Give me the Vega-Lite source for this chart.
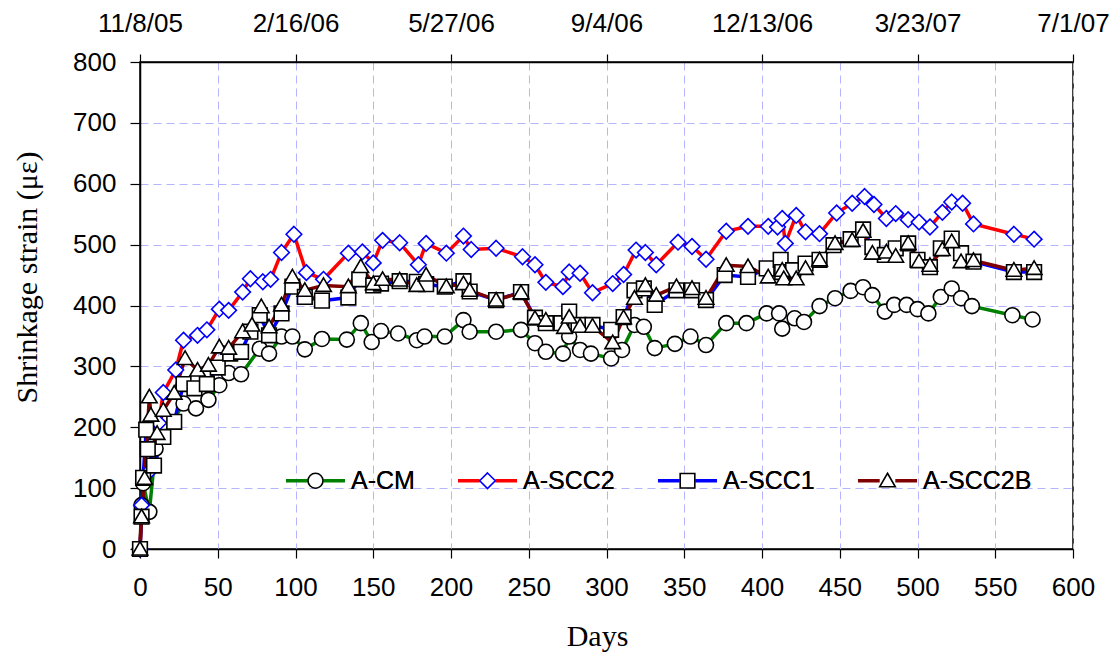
{
  "$schema": "https://vega.github.io/schema/vega-lite/v6.json",
  "autosize": {"type": "none"},
  "width": 933,
  "height": 487,
  "padding": {"left": 140, "top": 62, "right": 47, "bottom": 108},
  "background": "white",
  "config": {
    "view": {"stroke": "black", "strokeWidth": 1.5},
    "axis": {
      "labelFont": "Liberation Sans", "labelFontSize": 26, "labelColor": "black",
      "titleFont": "Liberation Serif", "titleFontSize": 30, "titleFontWeight": "normal", "titleColor": "black",
      "domainColor": "black", "domainWidth": 1.5, "tickColor": "black", "tickWidth": 1.2,
      "gridColor": "#b4b4ff", "gridDash": [8, 5], "gridWidth": 1
    },
    "legend": {
      "labelFont": "Liberation Sans", "labelFontSize": 25, "labelColor": "black",
      "orient": "none", "legendX": 146, "legendY": 406, "direction": "horizontal",
      "padding": 0, "columnPadding": 35, "symbolOffset": 17, "labelOffset": 23,
      "symbolSize": 144, "title": null
    }
  },
  "data": {"values": [
    {"series":"A-CM","day":0,"strain":0},{"series":"A-CM","day":1,"strain":72},{"series":"A-CM","day":2,"strain":108},{"series":"A-CM","day":6,"strain":61},{"series":"A-CM","day":10,"strain":165},{"series":"A-CM","day":28,"strain":239},{"series":"A-CM","day":36,"strain":231},{"series":"A-CM","day":44,"strain":245},{"series":"A-CM","day":51,"strain":269},{"series":"A-CM","day":57,"strain":289},{"series":"A-CM","day":65,"strain":287},{"series":"A-CM","day":77,"strain":329},{"series":"A-CM","day":83,"strain":321},{"series":"A-CM","day":91,"strain":349},{"series":"A-CM","day":98,"strain":349},{"series":"A-CM","day":106,"strain":328},{"series":"A-CM","day":117,"strain":345},{"series":"A-CM","day":133,"strain":344},{"series":"A-CM","day":142,"strain":371},{"series":"A-CM","day":149,"strain":340},{"series":"A-CM","day":155,"strain":358},{"series":"A-CM","day":166,"strain":354},{"series":"A-CM","day":178,"strain":343},{"series":"A-CM","day":183,"strain":349},{"series":"A-CM","day":196,"strain":349},{"series":"A-CM","day":208,"strain":376},{"series":"A-CM","day":212,"strain":357},{"series":"A-CM","day":229,"strain":357},{"series":"A-CM","day":245,"strain":360},{"series":"A-CM","day":254,"strain":338},{"series":"A-CM","day":261,"strain":324},{"series":"A-CM","day":272,"strain":321},{"series":"A-CM","day":276,"strain":349},{"series":"A-CM","day":283,"strain":327},{"series":"A-CM","day":290,"strain":321},{"series":"A-CM","day":303,"strain":313},{"series":"A-CM","day":310,"strain":327},{"series":"A-CM","day":318,"strain":368},{"series":"A-CM","day":324,"strain":365},{"series":"A-CM","day":331,"strain":330},{"series":"A-CM","day":344,"strain":337},{"series":"A-CM","day":354,"strain":349},{"series":"A-CM","day":364,"strain":335},{"series":"A-CM","day":377,"strain":371},{"series":"A-CM","day":390,"strain":371},{"series":"A-CM","day":403,"strain":387},{"series":"A-CM","day":411,"strain":387},{"series":"A-CM","day":413,"strain":362},{"series":"A-CM","day":421,"strain":379},{"series":"A-CM","day":427,"strain":373},{"series":"A-CM","day":437,"strain":399},{"series":"A-CM","day":447,"strain":412},{"series":"A-CM","day":457,"strain":424},{"series":"A-CM","day":465,"strain":430},{"series":"A-CM","day":471,"strain":417},{"series":"A-CM","day":479,"strain":390},{"series":"A-CM","day":485,"strain":401},{"series":"A-CM","day":493,"strain":401},{"series":"A-CM","day":500,"strain":394},{"series":"A-CM","day":507,"strain":387},{"series":"A-CM","day":515,"strain":414},{"series":"A-CM","day":522,"strain":428},{"series":"A-CM","day":528,"strain":412},{"series":"A-CM","day":535,"strain":399},{"series":"A-CM","day":561,"strain":384},{"series":"A-CM","day":574,"strain":377},

    {"series":"A-SCC2","day":0,"strain":0},{"series":"A-SCC2","day":1,"strain":72},{"series":"A-SCC2","day":5,"strain":125},{"series":"A-SCC2","day":12,"strain":207},{"series":"A-SCC2","day":15,"strain":257},{"series":"A-SCC2","day":23,"strain":294},{"series":"A-SCC2","day":28,"strain":343},{"series":"A-SCC2","day":37,"strain":351},{"series":"A-SCC2","day":43,"strain":360},{"series":"A-SCC2","day":51,"strain":394},{"series":"A-SCC2","day":57,"strain":392},{"series":"A-SCC2","day":66,"strain":422},{"series":"A-SCC2","day":71,"strain":444},{"series":"A-SCC2","day":79,"strain":439},{"series":"A-SCC2","day":84,"strain":443},{"series":"A-SCC2","day":91,"strain":487},{"series":"A-SCC2","day":99,"strain":517},{"series":"A-SCC2","day":107,"strain":454},{"series":"A-SCC2","day":118,"strain":443},{"series":"A-SCC2","day":134,"strain":486},{"series":"A-SCC2","day":143,"strain":488},{"series":"A-SCC2","day":150,"strain":470},{"series":"A-SCC2","day":156,"strain":507},{"series":"A-SCC2","day":167,"strain":503},{"series":"A-SCC2","day":179,"strain":467},{"series":"A-SCC2","day":184,"strain":502},{"series":"A-SCC2","day":197,"strain":486},{"series":"A-SCC2","day":208,"strain":514},{"series":"A-SCC2","day":213,"strain":492},{"series":"A-SCC2","day":229,"strain":494},{"series":"A-SCC2","day":246,"strain":480},{"series":"A-SCC2","day":254,"strain":467},{"series":"A-SCC2","day":261,"strain":438},{"series":"A-SCC2","day":272,"strain":431},{"series":"A-SCC2","day":276,"strain":455},{"series":"A-SCC2","day":283,"strain":453},{"series":"A-SCC2","day":291,"strain":421},{"series":"A-SCC2","day":304,"strain":436},{"series":"A-SCC2","day":311,"strain":451},{"series":"A-SCC2","day":319,"strain":491},{"series":"A-SCC2","day":325,"strain":487},{"series":"A-SCC2","day":332,"strain":467},{"series":"A-SCC2","day":346,"strain":504},{"series":"A-SCC2","day":355,"strain":497},{"series":"A-SCC2","day":364,"strain":476},{"series":"A-SCC2","day":377,"strain":522},{"series":"A-SCC2","day":391,"strain":530},{"series":"A-SCC2","day":404,"strain":530},{"series":"A-SCC2","day":410,"strain":529},{"series":"A-SCC2","day":413,"strain":543},{"series":"A-SCC2","day":415,"strain":502},{"series":"A-SCC2","day":422,"strain":548},{"series":"A-SCC2","day":428,"strain":521},{"series":"A-SCC2","day":437,"strain":518},{"series":"A-SCC2","day":448,"strain":552},{"series":"A-SCC2","day":458,"strain":568},{"series":"A-SCC2","day":466,"strain":579},{"series":"A-SCC2","day":472,"strain":566},{"series":"A-SCC2","day":480,"strain":543},{"series":"A-SCC2","day":486,"strain":551},{"series":"A-SCC2","day":494,"strain":541},{"series":"A-SCC2","day":501,"strain":537},{"series":"A-SCC2","day":508,"strain":529},{"series":"A-SCC2","day":516,"strain":553},{"series":"A-SCC2","day":522,"strain":570},{"series":"A-SCC2","day":529,"strain":568},{"series":"A-SCC2","day":536,"strain":534},{"series":"A-SCC2","day":562,"strain":517},{"series":"A-SCC2","day":575,"strain":509},

    {"series":"A-SCC1","day":0,"strain":0},{"series":"A-SCC1","day":1,"strain":53},{"series":"A-SCC1","day":2,"strain":117},{"series":"A-SCC1","day":4,"strain":196},{"series":"A-SCC1","day":5,"strain":164},{"series":"A-SCC1","day":9,"strain":137},{"series":"A-SCC1","day":15,"strain":184},{"series":"A-SCC1","day":22,"strain":209},{"series":"A-SCC1","day":28,"strain":271},{"series":"A-SCC1","day":35,"strain":264},{"series":"A-SCC1","day":43,"strain":271},{"series":"A-SCC1","day":50,"strain":298},{"series":"A-SCC1","day":58,"strain":321},{"series":"A-SCC1","day":65,"strain":324},{"series":"A-SCC1","day":71,"strain":357},{"series":"A-SCC1","day":77,"strain":384},{"series":"A-SCC1","day":83,"strain":351},{"series":"A-SCC1","day":91,"strain":387},{"series":"A-SCC1","day":98,"strain":431},{"series":"A-SCC1","day":106,"strain":414},{"series":"A-SCC1","day":117,"strain":408},{"series":"A-SCC1","day":134,"strain":413},{"series":"A-SCC1","day":141,"strain":443},{"series":"A-SCC1","day":150,"strain":433},{"series":"A-SCC1","day":155,"strain":436},{"series":"A-SCC1","day":167,"strain":440},{"series":"A-SCC1","day":178,"strain":439},{"series":"A-SCC1","day":184,"strain":435},{"series":"A-SCC1","day":196,"strain":431},{"series":"A-SCC1","day":208,"strain":440},{"series":"A-SCC1","day":212,"strain":423},{"series":"A-SCC1","day":229,"strain":409},{"series":"A-SCC1","day":245,"strain":422},{"series":"A-SCC1","day":254,"strain":380},{"series":"A-SCC1","day":261,"strain":371},{"series":"A-SCC1","day":271,"strain":371},{"series":"A-SCC1","day":276,"strain":390},{"series":"A-SCC1","day":282,"strain":368},{"series":"A-SCC1","day":291,"strain":368},{"series":"A-SCC1","day":303,"strain":360},{"series":"A-SCC1","day":311,"strain":381},{"series":"A-SCC1","day":318,"strain":425},{"series":"A-SCC1","day":324,"strain":428},{"series":"A-SCC1","day":331,"strain":401},{"series":"A-SCC1","day":345,"strain":425},{"series":"A-SCC1","day":355,"strain":425},{"series":"A-SCC1","day":364,"strain":409},{"series":"A-SCC1","day":376,"strain":450},{"series":"A-SCC1","day":391,"strain":447},{"series":"A-SCC1","day":403,"strain":461},{"series":"A-SCC1","day":412,"strain":475},{"series":"A-SCC1","day":413,"strain":455},{"series":"A-SCC1","day":420,"strain":458},{"series":"A-SCC1","day":428,"strain":469},{"series":"A-SCC1","day":437,"strain":475},{"series":"A-SCC1","day":446,"strain":499},{"series":"A-SCC1","day":457,"strain":509},{"series":"A-SCC1","day":465,"strain":525},{"series":"A-SCC1","day":471,"strain":496},{"series":"A-SCC1","day":479,"strain":483},{"series":"A-SCC1","day":486,"strain":494},{"series":"A-SCC1","day":494,"strain":502},{"series":"A-SCC1","day":500,"strain":475},{"series":"A-SCC1","day":508,"strain":463},{"series":"A-SCC1","day":515,"strain":494},{"series":"A-SCC1","day":522,"strain":510},{"series":"A-SCC1","day":528,"strain":486},{"series":"A-SCC1","day":536,"strain":472},{"series":"A-SCC1","day":562,"strain":455},{"series":"A-SCC1","day":575,"strain":455},

    {"series":"A-SCC2B","day":0,"strain":0},{"series":"A-SCC2B","day":1,"strain":53},{"series":"A-SCC2B","day":3,"strain":116},{"series":"A-SCC2B","day":6,"strain":250},{"series":"A-SCC2B","day":7,"strain":220},{"series":"A-SCC2B","day":11,"strain":190},{"series":"A-SCC2B","day":15,"strain":228},{"series":"A-SCC2B","day":22,"strain":256},{"series":"A-SCC2B","day":29,"strain":313},{"series":"A-SCC2B","day":37,"strain":294},{"series":"A-SCC2B","day":44,"strain":302},{"series":"A-SCC2B","day":51,"strain":332},{"series":"A-SCC2B","day":57,"strain":330},{"series":"A-SCC2B","day":66,"strain":357},{"series":"A-SCC2B","day":72,"strain":368},{"series":"A-SCC2B","day":78,"strain":398},{"series":"A-SCC2B","day":83,"strain":365},{"series":"A-SCC2B","day":91,"strain":401},{"series":"A-SCC2B","day":98,"strain":447},{"series":"A-SCC2B","day":106,"strain":425},{"series":"A-SCC2B","day":118,"strain":433},{"series":"A-SCC2B","day":134,"strain":431},{"series":"A-SCC2B","day":142,"strain":464},{"series":"A-SCC2B","day":150,"strain":436},{"series":"A-SCC2B","day":156,"strain":443},{"series":"A-SCC2B","day":167,"strain":442},{"series":"A-SCC2B","day":178,"strain":433},{"series":"A-SCC2B","day":184,"strain":450},{"series":"A-SCC2B","day":197,"strain":431},{"series":"A-SCC2B","day":208,"strain":436},{"series":"A-SCC2B","day":212,"strain":425},{"series":"A-SCC2B","day":229,"strain":409},{"series":"A-SCC2B","day":245,"strain":421},{"series":"A-SCC2B","day":254,"strain":379},{"series":"A-SCC2B","day":261,"strain":376},{"series":"A-SCC2B","day":273,"strain":364},{"series":"A-SCC2B","day":276,"strain":381},{"series":"A-SCC2B","day":283,"strain":366},{"series":"A-SCC2B","day":291,"strain":366},{"series":"A-SCC2B","day":304,"strain":339},{"series":"A-SCC2B","day":311,"strain":380},{"series":"A-SCC2B","day":318,"strain":412},{"series":"A-SCC2B","day":325,"strain":433},{"series":"A-SCC2B","day":332,"strain":417},{"series":"A-SCC2B","day":345,"strain":431},{"series":"A-SCC2B","day":355,"strain":428},{"series":"A-SCC2B","day":364,"strain":412},{"series":"A-SCC2B","day":377,"strain":466},{"series":"A-SCC2B","day":391,"strain":464},{"series":"A-SCC2B","day":404,"strain":447},{"series":"A-SCC2B","day":413,"strain":458},{"series":"A-SCC2B","day":414,"strain":444},{"series":"A-SCC2B","day":422,"strain":444},{"series":"A-SCC2B","day":428,"strain":461},{"series":"A-SCC2B","day":437,"strain":475},{"series":"A-SCC2B","day":447,"strain":502},{"series":"A-SCC2B","day":458,"strain":507},{"series":"A-SCC2B","day":465,"strain":522},{"series":"A-SCC2B","day":471,"strain":486},{"series":"A-SCC2B","day":480,"strain":488},{"series":"A-SCC2B","day":486,"strain":481},{"series":"A-SCC2B","day":494,"strain":502},{"series":"A-SCC2B","day":501,"strain":472},{"series":"A-SCC2B","day":508,"strain":466},{"series":"A-SCC2B","day":516,"strain":492},{"series":"A-SCC2B","day":522,"strain":505},{"series":"A-SCC2B","day":528,"strain":472},{"series":"A-SCC2B","day":536,"strain":474},{"series":"A-SCC2B","day":562,"strain":458},{"series":"A-SCC2B","day":575,"strain":461}
  ]},
  "layer": [
    {
      "mark": {"type": "line", "strokeWidth": 3.5},
      "encoding": {
        "x": {"field": "day", "type": "quantitative", "scale": {"domain": [0, 600], "nice": false},
          "axis": {"orient": "bottom", "title": "Days", "values": [0,50,100,150,200,250,300,350,400,450,500,550,600],
            "grid": true, "tickSize": 9, "labelPadding": 29, "labelBaseline": "middle", "labelFlush": false,
            "titleX": 457, "titleY": 87, "titleAlign": "center", "titleBaseline": "middle"}},
        "y": {"field": "strain", "type": "quantitative", "scale": {"domain": [0, 800], "nice": false},
          "axis": {"title": "Shrinkage strain (\u03bc\u03b5)", "values": [0,100,200,300,400,500,600,700,800],
            "grid": true, "tickSize": 10, "labelPadding": 14, "labelFlush": false,
            "titleX": -113, "titleY": 215, "titleAngle": 270, "titleAlign": "center", "titleBaseline": "middle"}},
        "color": {"field": "series", "type": "nominal", "sort": ["A-CM", "A-SCC2", "A-SCC1", "A-SCC2B"],
          "scale": {"range": ["#008000", "#ff0000", "#0000ff", "#800000"]},
          "legend": {"symbolType": "M-4.92,0H-1.3M1.3,0H4.92", "symbolStrokeWidth": 3.5, "symbolSize": 144}}
      }
    },
    {
      "mark": {"type": "point", "filled": true, "fill": "white", "opacity": 1, "strokeWidth": 1.6, "size": 144},
      "encoding": {
        "x": {"field": "day", "type": "quantitative",
          "axis": {"orient": "top", "title": null, "values": [0,100,200,300,400,500,600], "grid": false,
            "tickSize": 8, "labelPadding": 23, "labelBaseline": "alphabetic", "labelFlush": false,
            "labelExpr": "timeFormat(datetime(2005, 10, 8 + datum.value), '%-m/%-d/%y')"}},
        "y": {"field": "strain", "type": "quantitative", "axis": null},
        "shape": {"field": "series", "type": "nominal",
          "scale": {"domain": ["A-CM", "A-SCC2", "A-SCC1", "A-SCC2B"], "range": [
            "M-5.553,0L-5.553,0M5.553,0L5.553,0M1.25,0A1.25,1.25,0,1,1,-1.25,0A1.25,1.25,0,1,1,1.25,0Z",
            "M-5.553,0L-5.553,0M5.553,0L5.553,0M0,-1.3L1.3,0L0,1.3L-1.3,0Z",
            "M-5.553,0L-5.553,0M5.553,0L5.553,0M-1.22,-1.22H1.22V1.22H-1.22Z",
            "M-5.553,0L-5.553,0M5.553,0L5.553,0M0,-1.25L1.3,1.0L-1.3,1.0Z"]},
          "legend": {"symbolStrokeWidth": 1.6, "symbolFillColor": "white"}},
        "stroke": {"field": "series", "type": "nominal",
          "scale": {"domain": ["A-CM", "A-SCC2", "A-SCC1", "A-SCC2B"], "range": ["#000000", "#0000ff", "#000000", "#000000"]},
          "legend": {"symbolStrokeWidth": 1.6, "symbolFillColor": "white"}}
      }
    }
  ],
  "resolve": {"axis": {"x": "independent", "y": "independent"}}
}
